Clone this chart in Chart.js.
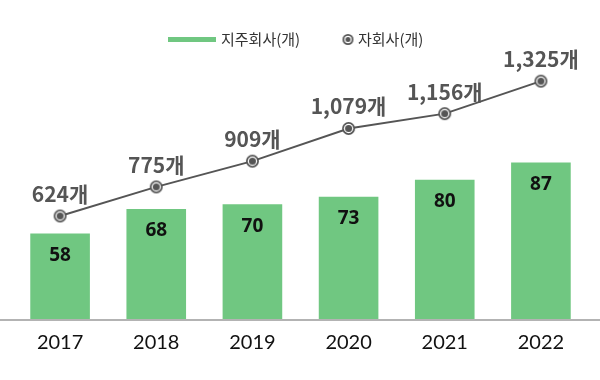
<!DOCTYPE html>
<html>
<head>
<meta charset="utf-8">
<script src="https://cdn.jsdelivr.net/npm/chart.js@4"></script>
<style>
  html, body { margin: 0; padding: 0; background: #fff; }
  #wrap { width: 600px; height: 380px; position: relative; }
</style>
</head>
<body>
<div id="wrap"><canvas id="c" width="600" height="380"></canvas></div>
<script>
// ---- data ----
const categories = ['2017', '2018', '2019', '2020', '2021', '2022'];
const holdingCompanies = [58, 68, 70, 73, 80, 87];          // 지주회사(개)
const subsidiaries = [624, 775, 909, 1079, 1156, 1325];      // 자회사(개)
const seriesNames = ['지주회사(개)', '자회사(개)'];

const GREEN = '#70c781';
const GRAY = '#555555';

// ring-style marker
function makeRing(r) {
  const s = Math.ceil(r * 2 + 2);
  const cv = document.createElement('canvas');
  cv.width = s; cv.height = s;
  const g = cv.getContext('2d');
  const c = s / 2;
  g.fillStyle = GRAY; g.beginPath(); g.arc(c, c, r, 0, Math.PI * 2); g.fill();
  g.fillStyle = '#ffffff'; g.beginPath(); g.arc(c, c, r - 1.8, 0, Math.PI * 2); g.fill();
  g.fillStyle = GRAY; g.beginPath(); g.arc(c, c, r - 3, 0, Math.PI * 2); g.fill();
  return cv;
}
const ring = makeRing(6.5);
const legendRing = makeRing(5.5);

const labelPlugin = {
  id: 'valueLabels',
  afterDatasetsDraw(chart) {
    const ctx = chart.ctx;
    ctx.save();
    // bar labels
    const barMeta = chart.getDatasetMeta(0);
    ctx.font = 'bold 19px "Noto Sans", "Noto Sans CJK KR", sans-serif';
    ctx.fillStyle = '#111';
    ctx.textAlign = 'center';
    ctx.textBaseline = 'middle';
    barMeta.data.forEach((el, i) => {
      ctx.fillText(String(holdingCompanies[i]), el.x, el.y + 22);
    });
    // line labels
    const lineMeta = chart.getDatasetMeta(1);
    ctx.font = 'bold 21px "Noto Sans CJK KR", sans-serif';
    ctx.fillStyle = GRAY;
    ctx.textBaseline = 'alphabetic';
    lineMeta.data.forEach((el, i) => {
      ctx.fillText(subsidiaries[i].toLocaleString('en-US') + '개', el.x, el.y - 14);
    });
    ctx.restore();
  }
};

const axisLinePlugin = {
  id: 'axisLine',
  afterDatasetsDraw(chart) {
    const ctx = chart.ctx;
    const y = chart.scales.x.top + 1;
    ctx.save();
    ctx.strokeStyle = '#b3b3b3';
    ctx.lineWidth = 2;
    ctx.beginPath();
    ctx.moveTo(0, y);
    ctx.lineTo(chart.width, y);
    ctx.stroke();
    ctx.restore();
  }
};

const legendPlugin = {
  id: 'customLegend',
  afterDraw(chart) {
    const ctx = chart.ctx;
    ctx.save();
    ctx.font = '15px "Noto Sans CJK KR", sans-serif';
    ctx.textBaseline = 'middle';
    ctx.textAlign = 'left';
    const y = 39.5;
    ctx.fillStyle = GREEN;
    ctx.fillRect(168, y - 2.5, 48, 5);
    ctx.fillStyle = '#333';
    ctx.fillText(seriesNames[0], 221, y);
    ctx.drawImage(legendRing, 348 - legendRing.width / 2, y - legendRing.height / 2);
    ctx.fillText(seriesNames[1], 358, y);
    ctx.restore();
  }
};

new Chart(document.getElementById('c'), {
  data: {
    labels: categories,
    datasets: [
      {
        type: 'bar',
        label: seriesNames[0],
        data: holdingCompanies,
        backgroundColor: GREEN,
        borderWidth: 0,
        barPercentage: 0.62,
        categoryPercentage: 1,
        yAxisID: 'y',
        order: 2
      },
      {
        type: 'line',
        label: seriesNames[1],
        data: subsidiaries,
        borderColor: GRAY,
        borderWidth: 2,
        pointStyle: ring,
        pointRadius: 6,
        yAxisID: 'y1',
        order: 1
      }
    ]
  },
  options: {
    responsive: false,
    animation: false,
    events: [],
    layout: { padding: { top: 60, left: 12, right: 11, bottom: 13 } },
    plugins: { legend: { display: false }, tooltip: { enabled: false } },
    scales: {
      x: {
        offset: true,
        grid: { display: false, drawTicks: false },
        border: { display: false },
        ticks: {
          padding: 12,
          color: '#111',
          font: { family: 'Lato, "Noto Sans", sans-serif', size: 20 }
        }
      },
      y: { display: false, min: 23, max: 129 },
      y1: { display: false, min: 88, max: 1435 }
    }
  },
  plugins: [labelPlugin, axisLinePlugin, legendPlugin]
});
</script>
</body>
</html>
